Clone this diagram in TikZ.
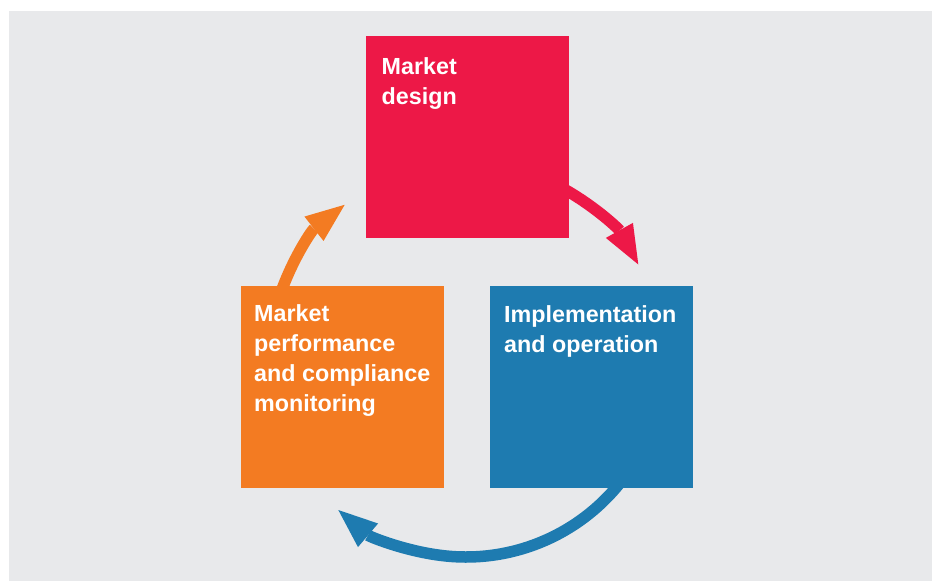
\documentclass[tikz,border=0pt]{standalone}
\usepackage{fontspec}
\setmainfont{Liberation Sans}
\usetikzlibrary{arrows.meta}

\definecolor{panel}{HTML}{E8E9EB}
\definecolor{mkred}{HTML}{ED1847}
\definecolor{mkorange}{HTML}{F37B22}
\definecolor{mkblue}{HTML}{1E7BB0}

\tikzset{
  stage/.style={rectangle, draw=none, fill=#1, inner sep=0pt,
                minimum width=203pt, minimum height=202pt, anchor=north west},
  stagetext/.style={anchor=base west, inner sep=0pt, text=white,
                    font=\fontsize{23.3}{30}\selectfont\bfseries},
  cyclearrow/.style={draw=#1, line width=11.5pt,
                     -{Triangle[length=39pt,width=31pt,line width=0pt]}},
}

\newcommand{\stagelines}[1]{\begin{tabular}[t]{@{}l@{}}#1\end{tabular}}

\begin{document}
\begin{tikzpicture}[x=1pt, y=-1pt]
  % canvas and grey panel
  \useasboundingbox (0,0) rectangle (932,581);
  \fill[white] (0,0) rectangle (932,581);
  \fill[panel] (9,11) rectangle (932,581);

  % centre of the cycle
  \coordinate (hub) at (466,360);

  % curved arrows, drawn first so the boxes cover their tails
  \draw[cyclearrow=mkred]    ([shift={(-65:197)}]hub)  arc[start angle=-65,  end angle=-29,   radius=197];
  \draw[cyclearrow=mkblue]   ([shift={(35:197)}]hub)   arc[start angle=35,   end angle=130.4, radius=197];
  \draw[cyclearrow=mkorange] ([shift={(-165:197)}]hub) arc[start angle=-165, end angle=-128,  radius=197];

  % the three stages
  \node[stage=mkred]    (design)  at (366,36)  {};
  \node[stage=mkblue]   (impl)    at (490,286) {};
  \node[stage=mkorange] (monitor) at (241,286) {};

  \node[stagetext] (designtext)  at ([xshift=15.5pt, yshift=-38.3pt]design.north west)
    {\stagelines{Market\\design}};
  \node[stagetext] (impltext)    at ([xshift=14pt, yshift=-36pt]impl.north west)
    {\stagelines{Implementation\\and operation}};
  \node[stagetext] (monitortext) at ([xshift=13pt, yshift=-35pt]monitor.north west)
    {\stagelines{Market\\performance\\and compliance\\monitoring}};
\end{tikzpicture}
\end{document}
